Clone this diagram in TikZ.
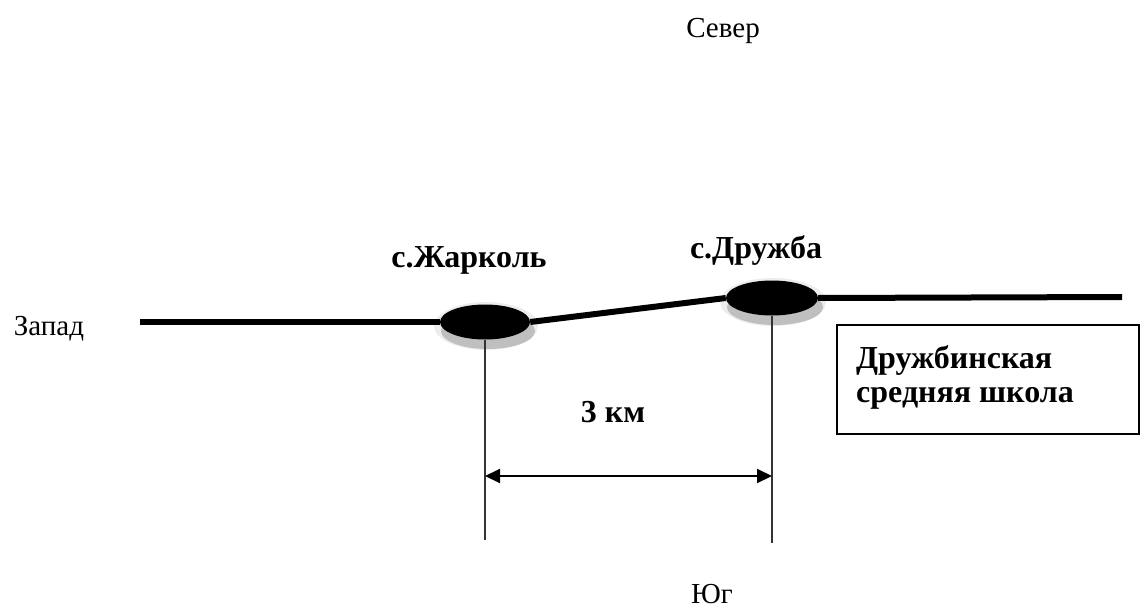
\documentclass[tikz,border=0pt]{standalone}
\usepackage{fontspec}
\setmainfont{Liberation Serif}
\usetikzlibrary{shapes.geometric,arrows.meta}
\tikzset{
  lbl/.style={font=\fontsize{29}{35}\selectfont, inner sep=0pt},
  blbl/.style={font=\fontsize{32}{34}\selectfont\bfseries, inner sep=0pt},
  village/.style={ellipse, fill=black, minimum width=90pt, minimum height=35pt, inner sep=0pt},
  halo/.style={ellipse, inner sep=0pt},
  road/.style={line width=6pt},
  guide/.style={line width=1.5pt, draw=black!80},
  dim/.style={line width=2pt, {Triangle[length=15pt,width=14pt]}-{Triangle[length=15pt,width=14pt]}},
  infobox/.style={draw, line width=2pt, minimum width=302pt, minimum height=109pt, inner sep=0pt}
}
\begin{document}
\begin{tikzpicture}[x=1pt,y=-1pt]
\useasboundingbox (0,0) rectangle (1140,610);
% halos
\node[halo, fill=black!7, minimum width=104pt, minimum height=48pt] (zhh1) at (486,326) {};
\node[halo, fill=black!25, minimum width=94pt, minimum height=36pt] (zhh2) at (488,331) {};
\node[halo, fill=black!7, minimum width=106pt, minimum height=48pt] (drh1) at (773,302) {};
\node[halo, fill=black!25, minimum width=96pt, minimum height=36pt] (drh2) at (775,307) {};
% villages
\node[village] (zh) at (485,322) {};
\node[village, minimum width=92pt] (dr) at (772,298) {};
% road
\coordinate (west) at (140,322);
\coordinate (east) at (1122,297);
\draw[road] (west) -- (zh.west);
\draw[road] (zh.east) -- (dr.west);
\draw[road] (dr.east) -- (east);
% guides
\coordinate (zhb) at (485,540);
\coordinate (drb) at (772,543);
\draw[guide] (zh.south) -- (zhb);
\draw[guide] (dr.south) -- (drb);
\coordinate (a1) at (485,476);
\coordinate (a2) at (772,476);
\draw[dim] (a1) -- (a2);
% labels
\node[lbl] (n) at (723,31) {Север};
\node[lbl] (s) at (712,594) {Юг};
\node[lbl] (w) at (49,329) {Запад};
\node[blbl, anchor=base] (zhl) at (469,267) {с.Жарколь};
\node[blbl, anchor=base] (drl) at (756,258) {с.Дружба};
\node[blbl, anchor=base] (km) at (613,422) {3 км};
\node[infobox, anchor=north west] (box) at (836,324) {};
\node[blbl, anchor=base west] (boxt1) at (856,368) {Дружбинская};
\node[blbl, anchor=base west] (boxt2) at (856,402) {средняя школа};
\end{tikzpicture}
\end{document}
